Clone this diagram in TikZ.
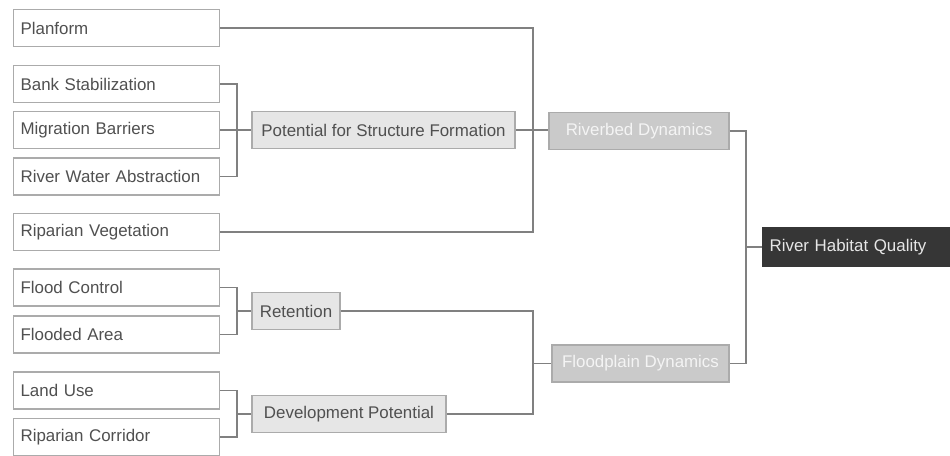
\documentclass[tikz,border=0pt]{standalone}
\usepackage{fontspec}
\setmainfont{Liberation Sans}
\definecolor{txtgray}{HTML}{505050}
\definecolor{boxline}{HTML}{ABABAB}
\definecolor{midfill}{HTML}{E6E6E6}
\definecolor{dynfill}{HTML}{CACACA}
\definecolor{dyntext}{HTML}{F4F4F4}
\definecolor{topfill}{HTML}{363636}
\definecolor{toptext}{HTML}{E6E6E6}
\definecolor{conncol}{HTML}{808080}
\newcommand{\fsz}{\fontsize{16.9}{20}\selectfont}
\tikzset{
  leaf/.style={draw=boxline, fill=white, line width=1.2pt, minimum height=37pt,
    text width=192pt, inner xsep=7pt, align=left, anchor=west, text=txtgray, font=\fsz},
  midbox/.style={draw=boxline, fill=midfill, line width=1.2pt, minimum height=37pt,
    inner xsep=3pt, text=txtgray, font=\fsz},
  dynbox/.style={draw=boxline, fill=dynfill, line width=1.2pt, minimum height=37pt,
    inner xsep=3pt, text=dyntext, font=\fsz},
  topbox/.style={draw=topfill, fill=topfill, line width=1.2pt, minimum height=38pt,
    text width=186pt, inner xsep=7pt, align=left, anchor=west, text=toptext, font=\fsz},
  conn/.style={draw=conncol, line width=1.3pt}
}
\begin{document}
\begin{tikzpicture}[x=1pt,y=-1pt]
\useasboundingbox (0,0) rectangle (950,455);
\clip (0,0) rectangle (950,455);
% leaves
\node[leaf] (plan)   at (13,28)  {Planform};
\node[leaf] (bank)   at (13,84)  {Bank Stabilization};
\node[leaf] (mig)    at (13,130) {Migration Barriers};
\node[leaf] (riv)    at (13,176.5) {River Water Abstraction};
\node[leaf] (ripveg) at (13,232) {Riparian Vegetation};
\node[leaf] (fc)     at (13,287.5) {Flood Control};
\node[leaf] (fa)     at (13,334.5) {Flooded Area};
\node[leaf] (lu)     at (13,390.5) {Land Use};
\node[leaf] (rc)     at (13,437) {Riparian Corridor};
% middle
\node[midbox, minimum width=263pt] (pot) at (383.5,130) {Potential for Structure Formation};
\node[midbox, minimum width=88pt]  (ret) at (296,311) {Retention};
\node[midbox, minimum width=194pt] (dev) at (349,414) {Development Potential};
% dynamics
\node[dynbox, minimum width=180pt] (rbd) at (639,131) {Riverbed Dynamics};
\node[dynbox, minimum width=177pt] (fpd) at (640.5,363.5) {Floodplain Dynamics};
% top
\node[topbox] (rhq) at (762,247) {River Habitat Quality};
% bus positions
\coordinate (busA) at (237,0);
\coordinate (busB) at (533,0);
\coordinate (busC) at (746,0);
% connectors
\draw[conn] (bank.east) -- (bank.east -| busA) |- (riv.east);
\draw[conn] (mig.east) -- (pot.west);
\draw[conn] (plan.east) -- (plan.east -| busB) |- (ripveg.east);
\draw[conn] (pot.east) -- (pot.east -| rbd.west);
\draw[conn] (rbd.east) -- (rbd.east -| busC) |- (fpd.east);
\draw[conn] (busC |- rhq.west) -- (rhq.west);
\draw[conn] (fc.east) -- (fc.east -| busA) |- (fa.east);
\draw[conn] (busA |- ret.west) -- (ret.west);
\draw[conn] (lu.east) -- (lu.east -| busA) |- (rc.east);
\draw[conn] (busA |- dev.west) -- (dev.west);
\draw[conn] (ret.east) -- (ret.east -| busB) |- (dev.east);
\draw[conn] (busB |- fpd.west) -- (fpd.west);
\end{tikzpicture}
\end{document}
